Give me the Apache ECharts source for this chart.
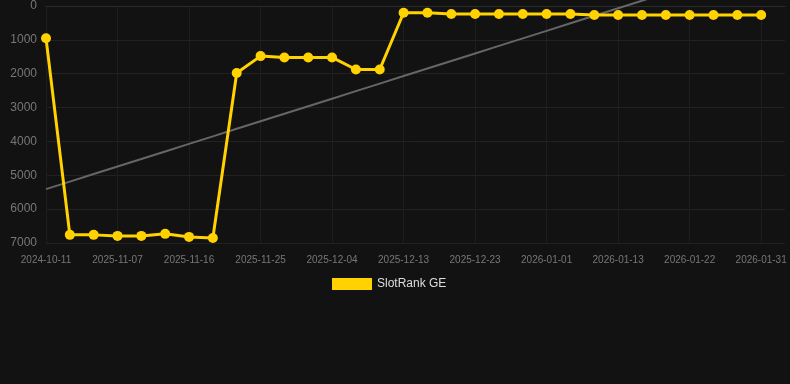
<!DOCTYPE html>
<html>
<head>
<meta charset="utf-8">
<script src="https://cdn.jsdelivr.net/npm/echarts@6/dist/echarts.min.js"></script>
<style>
html,body{margin:0;padding:0;background:#121212;}
#chart{width:790px;height:384px;}
</style>
</head>
<body>
<div id="chart"></div>
<script>
const categories = [
  '2024-10-11','2025-11-01','2025-11-04','2025-11-07','2025-11-10','2025-11-13',
  '2025-11-16','2025-11-19','2025-11-22','2025-11-25','2025-11-28','2025-12-01',
  '2025-12-04','2025-12-07','2025-12-10','2025-12-13','2025-12-16','2025-12-20',
  '2025-12-23','2025-12-26','2025-12-29','2026-01-01','2026-01-05','2026-01-09',
  '2026-01-13','2026-01-16','2026-01-19','2026-01-22','2026-01-25','2026-01-28',
  '2026-01-31',''
];
const rankValues = [
  950, 6760, 6760, 6790, 6790, 6730, 6820, 6850, 1980, 1480, 1520, 1520,
  1520, 1875, 1875, 200, 200, 235, 235, 235, 235, 235, 235, 265,
  265, 265, 265, 265, 265, 265, 265
];
const seriesName = 'SlotRank GE';

// Linear regression trend over the rank series
function trend(vals) {
  const n = vals.length;
  let sx = 0, sy = 0, sxy = 0, sxx = 0;
  vals.forEach((v, i) => { sx += i; sy += v; sxy += i * v; sxx += i * i; });
  const b = (n * sxy - sx * sy) / (n * sxx - sx * sx);
  const a = (sy - b * sx) / n;
  return vals.map((_, i) => a + b * i);
}
const trendValues = trend(rankValues);

const chart = echarts.init(document.getElementById('chart'));
chart.setOption({
  backgroundColor: '#121212',
  animation: false,
  grid: { left: 46, right: 5, top: 6, bottom: 141 },
  legend: {
    data: [seriesName],
    top: 278,
    left: 332,
    icon: 'rect',
    itemWidth: 40,
    itemHeight: 12,
    itemGap: 6,
    padding: 0,
    textStyle: { color: '#dddddd', fontSize: 12, fontFamily: 'Arial, Liberation Sans, sans-serif' }
  },
  xAxis: {
    type: 'category',
    data: categories,
    boundaryGap: false,
    axisLine: { show: true, lineStyle: { color: '#2a2a2a' } },
    axisTick: { show: false },
    axisLabel: { interval: 2, color: '#777777', fontSize: 10, margin: 12, fontFamily: 'Arial, Liberation Sans, sans-serif' },
    splitLine: { show: true, interval: 2, lineStyle: { color: '#1e1e1e' } }
  },
  yAxis: {
    type: 'value',
    inverse: true,
    min: 0,
    max: 7000,
    interval: 1000,
    axisLine: { show: false },
    axisTick: { show: false },
    axisLabel: { color: '#777777', fontSize: 12, margin: 9, fontFamily: 'Arial, Liberation Sans, sans-serif', formatter: v => String(v) },
    splitLine: { show: true, lineStyle: { color: '#222222' } }
  },
  series: [
    {
      name: 'trend',
      type: 'line',
      data: trendValues,
      symbol: 'none',
      silent: true,
      clip: false,
      lineStyle: { color: '#666666', width: 2 },
      z: 1
    },
    {
      name: seriesName,
      type: 'line',
      data: rankValues,
      symbol: 'circle',
      symbolSize: 10,
      itemStyle: { color: '#ffd200' },
      lineStyle: { color: '#ffd200', width: 3 },
      z: 2
    }
  ]
});
</script>
</body>
</html>
